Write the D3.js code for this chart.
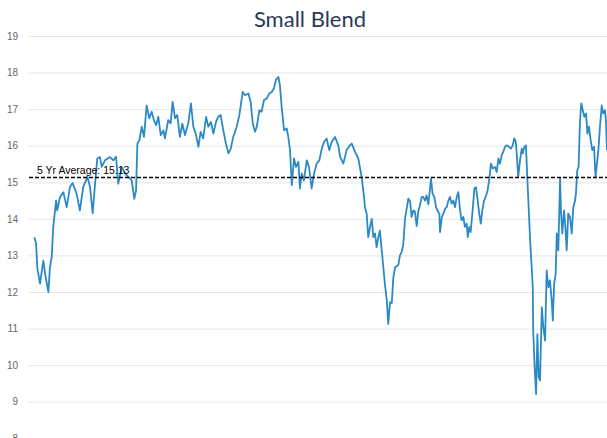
<!DOCTYPE html>
<html lang="en">
<head>
    <meta charset="UTF-8">
    <title>Small Blend</title>
    <script src="https://d3js.org/d3.v7.min.js"></script>
    <style>
        html, body {
            margin: 0;
            background: #fff;
            overflow: hidden;
        }
        #vis {
            width: 607px;
            height: 438px;
        }
    </style>
</head>
<body>
    <div id="vis"></div>

    <script>

        /*
         *  DATA
         */
        var title = "Small Blend";

        // week number (0 = start of 5 yr window) of each reading
        var weeks = [
            0, 0.8, 1.4, 2.6, 4.1, 4.9, 6.4, 7.1, 7.9, 8.6, 9.9, 10.4, 11.7, 13.2, 14.7, 16.2, 17.4, 19.2, 20.7, 22.2,
            24.1, 25.3, 26.5, 27.6, 28.6, 29.8, 30.6, 32.1, 34.4, 35.9, 37.1, 38.1, 39.7, 41.2, 42.7, 44.2, 45.4, 46.2, 46.8, 47.7,
            48.8, 49.8, 51.0, 52.2, 53.3, 54.3, 55.3, 56.3, 57.4, 58.6, 59.3, 60.8, 61.9, 62.8, 63.9, 64.9, 66.1, 67.2, 68.4, 69.9,
            71.1, 72.2, 73.3, 74.5, 75.5, 76.7, 78.0, 79.0, 80.2, 81.3, 82.5, 83.5, 84.6, 85.8, 87.0, 88.1, 89.2, 90.3, 91.9, 93.1,
            94.6, 95.7, 97.2, 98.2, 99.2, 100.2, 101.0, 102.2, 103.2, 104.3, 105.5, 106.7, 107.8, 108.8, 109.7, 110.8, 111.5, 112.3, 113.4, 114.6,
            115.3, 116.1, 116.9, 117.9, 118.8, 119.9, 120.6, 121.4, 122.4, 123.7, 124.7, 125.9, 127.0, 128.2, 129.4, 130.5, 131.5, 132.7, 133.9, 135.0,
            136.5, 138.0, 138.8, 140.3, 141.8, 143.3, 144.1, 145.6, 147.1, 148.6, 149.7, 150.1, 150.9, 151.6, 152.4, 153.2, 153.9, 154.7, 155.4, 156.2,
            156.9, 158.1, 159.2, 160.0, 160.7, 161.5, 162.3, 163.0, 163.8, 164.5, 165.3, 166.0, 166.8, 167.5, 168.3, 169.1, 169.8, 170.6, 171.3, 172.1,
            172.8, 173.6, 174.3, 175.1, 175.9, 176.6, 177.4, 178.1, 178.9, 179.6, 180.1, 180.8, 181.6, 182.4, 183.0, 183.9, 184.2, 185.0, 185.7, 186.5,
            187.2, 188.0, 188.7, 189.5, 190.2, 191.0, 191.8, 192.5, 193.3, 194.0, 194.8, 195.5, 196.3, 196.8, 197.5, 198.1, 199.0, 199.8, 200.5, 201.1,
            202.0, 202.7, 203.4, 204.2, 205.1, 205.8, 206.6, 207.3, 208.1, 209.2, 209.9, 210.7, 211.4, 212.2, 212.9, 213.7, 214.5, 215.5, 216.4, 217.2,
            217.9, 218.6, 219.0, 219.7, 220.5, 221.3, 221.7, 222.5, 223.2, 223.8, 224.5, 225.1, 225.8, 226.3, 226.5, 226.9, 227.3, 227.8, 228.4, 229.0,
            229.6, 230.4, 231.1, 231.9, 232.6, 233.4, 234.1, 234.9, 235.4, 236.0, 236.7, 237.2, 237.9, 238.7, 239.1, 239.7, 240.5, 241.1, 241.7, 242.4,
            243.2, 244.0, 244.7, 245.5, 245.9, 246.5, 247.1, 247.7, 248.3, 249.0, 249.7, 250.5, 251.1, 251.8, 252.6, 253.3, 254.1, 254.8, 255.6, 256.2,
            256.8, 257.6, 258.3, 259.1, 259.5, 260.0
        ];

        // forward P/E
        var pe = [
            13.5, 13.33, 12.64, 12.23, 12.86, 12.5, 12.0, 12.68, 12.95, 13.78, 14.5, 14.23, 14.6, 14.73, 14.32, 14.87, 14.98, 14.69, 14.23, 14.87,
            15.15, 14.87, 14.15, 14.97, 15.65, 15.69, 15.42, 15.6, 15.69, 15.6, 15.7, 14.96, 15.42, 15.24, 15.15, 15.05, 14.55, 14.78, 16.06, 16.15,
            16.52, 16.24, 17.1, 16.75, 16.93, 16.7, 16.56, 16.79, 16.29, 16.42, 16.2, 16.7, 16.61, 17.2, 16.75, 16.84, 16.24, 16.6, 16.29, 16.61,
            17.16, 16.52, 16.33, 15.97, 16.38, 16.2, 16.79, 16.52, 16.65, 16.33, 16.65, 16.79, 16.84, 16.42, 16.06, 15.79, 15.92, 16.24, 16.52, 16.84,
            17.47, 17.38, 17.43, 17.2, 16.61, 16.38, 16.52, 16.97, 16.93, 17.25, 17.29, 17.43, 17.47, 17.57, 17.8, 17.88, 17.66, 17.06, 16.42, 16.47,
            16.24, 15.88, 14.92, 15.65, 15.42, 15.56, 14.83, 15.24, 15.05, 15.6, 15.42, 14.83, 15.24, 15.51, 15.6, 15.92, 16.1, 16.2, 15.88, 16.1,
            16.24, 16.01, 15.7, 15.51, 15.88, 16.01, 16.06, 15.83, 15.65, 15.15, 14.6, 14.32, 14.14, 13.5, 13.78, 14.0, 13.5, 13.6, 13.23, 13.5,
            13.68, 12.9, 12.2, 11.8, 11.13, 11.72, 11.7, 12.4, 12.68, 12.7, 12.75, 13.0, 13.1, 13.3, 14.0, 14.3, 14.55, 14.48, 14.05, 14.23,
            14.2, 13.8, 14.2, 14.37, 14.6, 14.6, 14.5, 14.64, 14.4, 14.8, 15.1, 14.69, 14.6, 14.32, 14.23, 14.14, 13.64, 14.05, 14.14, 14.28,
            14.32, 14.5, 14.6, 14.42, 14.5, 14.32, 14.6, 14.73, 14.23, 13.96, 14.05, 13.78, 13.87, 13.5, 13.78, 13.64, 14.23, 14.83, 14.87, 14.6,
            14.14, 13.87, 14.23, 14.5, 14.64, 14.78, 15.1, 15.51, 15.38, 15.42, 15.28, 15.65, 15.51, 15.74, 15.83, 15.97, 16.01, 15.97, 15.92, 16.01,
            16.2, 16.1, 15.79, 15.15, 15.6, 15.92, 15.79, 15.97, 16.01, 15.15, 14.23, 13.41, 12.68, 12.13, 10.95, 10.31, 9.76, 9.21, 10.85, 9.67,
            9.58, 11.58, 11.04, 10.67, 12.59, 12.13, 12.32, 11.77, 11.22, 12.22, 12.5, 13.6, 13.14, 15.1, 14.23, 13.6, 14.23, 13.78, 13.14, 14.14,
            14.05, 13.6, 14.32, 14.5, 14.69, 15.33, 15.42, 16.61, 17.16, 16.97, 16.79, 16.88, 16.33, 16.52, 16.15, 15.88, 15.97, 15.15, 15.6, 15.97,
            16.52, 17.1, 16.88, 16.97, 16.7, 15.88
        ];

        var yTicks = [8, 9, 10, 11, 12, 13, 14, 15, 16, 17, 18, 19];
        var average = 15.13;

        /*
         *  LAYOUT
         */
        var view_width = 607;
        var view_height = 438;

        var svg = d3.select('#vis')
            .append('svg')
                .attr('width', view_width)
                .attr('height', view_height);

        var x_scale = d3.scaleLinear()
            .domain([0, 260])
            .range([34.3, 607]);

        var y_scale = d3.scaleLinear()
            .domain([8, 19])
            .range([438.3, 36]);

        // gridlines + tick labels
        var y_axis = d3.axisLeft(y_scale)
            .tickValues(yTicks)
            .tickSize(-(view_width - 29))
            .tickPadding(11)
            .tickFormat(d3.format('d'));

        var gAxis = svg.append('g')
            .attr('transform', 'translate(29,0)')
            .call(y_axis);

        gAxis.select('.domain').remove();
        gAxis.selectAll('.tick line')
            .attr('stroke', '#e6e6e6')
            .attr('stroke-width', 1);
        gAxis.selectAll('.tick text')
            .attr('fill', '#666')
            .attr('font-family', 'Liberation Sans, Arial, sans-serif')
            .attr('font-size', '10px');

        // title
        svg.append('text')
            .attr('x', 310)
            .attr('y', 27)
            .attr('text-anchor', 'middle')
            .attr('font-family', 'Lato, sans-serif')
            .attr('font-size', '22px')
            .attr('fill', '#2b3a55')
            .text(title);

        // the P/E line
        var line = d3.line()
            .x(function(d, i) { return x_scale(weeks[i]); })
            .y(function(d) { return y_scale(d); });

        svg.append('path')
            .datum(pe)
            .attr('fill', 'none')
            .attr('stroke', '#2b8ac6')
            .attr('stroke-width', 1.8)
            .attr('stroke-linejoin', 'round')
            .attr('d', line);

        // 5 yr average
        svg.append('line')
            .attr('x1', 29)
            .attr('x2', view_width)
            .attr('y1', y_scale(average))
            .attr('y2', y_scale(average))
            .attr('stroke', '#000')
            .attr('stroke-width', 1.6)
            .attr('stroke-dasharray', '4,2');

        svg.append('text')
            .attr('x', 37)
            .attr('y', y_scale(average) - 4)
            .attr('font-family', 'Liberation Sans, Arial, sans-serif')
            .attr('font-size', '10.5px')
            .attr('fill', '#000')
            .text('5 Yr Average: ' + average.toFixed(2));

    </script>
</body>
</html>
